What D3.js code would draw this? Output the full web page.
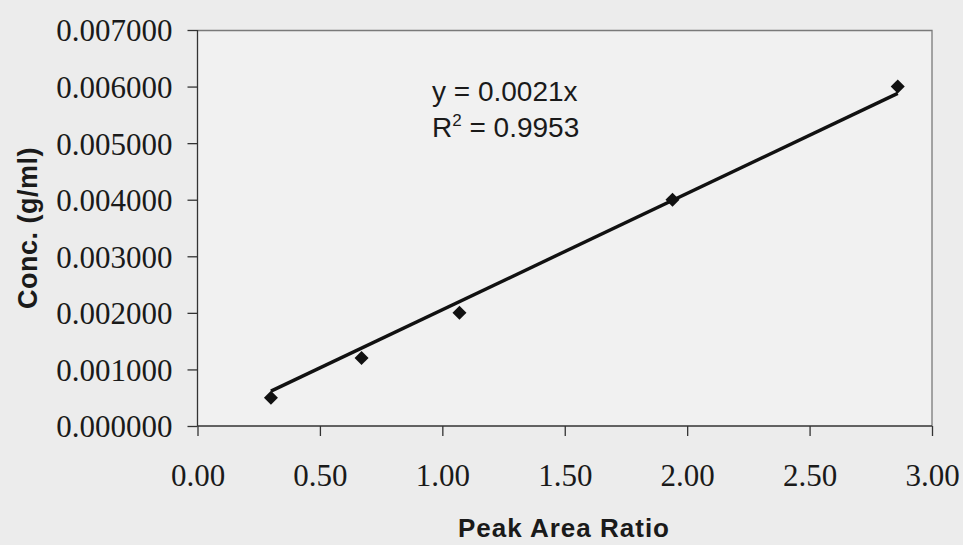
<!DOCTYPE html>
<html>
<head>
<meta charset="utf-8">
<script src="https://cdn.jsdelivr.net/npm/d3@7"></script>
<style>
  body { margin: 0; background: #ececec; }
  svg { display: block; }
</style>
</head>
<body>
<div id="graph"></div>
<script>
// calibration points
var peakRatio = [0.30, 0.67, 1.07, 1.94, 2.86];
var concentration = [0.0005, 0.0012, 0.0020, 0.0040, 0.0060];

var xTicks = [0, 0.5, 1, 1.5, 2, 2.5, 3];
var yTicks = [0, 0.001, 0.002, 0.003, 0.004, 0.005, 0.006, 0.007];

var equationLines = ["y = 0.0021x", "R\u00b2 = 0.9953"];

var svgWidth = 963;
var svgHeight = 545;

var chartMargin = { top: 30, right: 31, bottom: 119, left: 197.5 };
var chartWidth = svgWidth - chartMargin.left - chartMargin.right;
var chartHeight = svgHeight - chartMargin.top - chartMargin.bottom;

var svg = d3.select("#graph")
  .append("svg")
  .attr("width", svgWidth)
  .attr("height", svgHeight);

var chartGroup = svg.append("g")
  .attr("transform", `translate(${chartMargin.left}, ${chartMargin.top})`);

var xScale = d3.scaleLinear().domain([0, 3]).range([0, chartWidth]);
var yScale = d3.scaleLinear().domain([0, 0.007]).range([chartHeight, 0]);

// plot area
chartGroup.append("rect")
  .attr("width", chartWidth)
  .attr("height", chartHeight)
  .attr("fill", "#f1f1f1");

// top and right border (lighter grey)
chartGroup.append("path")
  .attr("d", `M0,0.5H${chartWidth}V${chartHeight}`)
  .attr("fill", "none")
  .attr("stroke", "#7a7a7a")
  .attr("stroke-width", 1.3);

var yAxis = d3.axisLeft(yScale)
  .tickValues(yTicks)
  .tickSize(10)
  .tickPadding(15)
  .tickFormat(d3.format(".6f"));

var xAxis = d3.axisBottom(xScale)
  .tickValues(xTicks)
  .tickSize(10)
  .tickPadding(28)
  .tickFormat(d3.format(".2f"));

var yGroup = chartGroup.append("g").call(yAxis);
var xGroup = chartGroup.append("g")
  .attr("transform", `translate(0, ${chartHeight})`)
  .call(xAxis);

[yGroup, xGroup].forEach(function (g) {
  g.selectAll("path, line").attr("stroke", "#333").attr("stroke-width", 1.3);
  g.selectAll("text")
    .attr("fill", "#1a1a1a")
    .style("font-family", "'Liberation Serif', 'Times New Roman', serif")
    .style("font-size", "31px");
});
yGroup.select(".domain").attr("d", `M0,${chartHeight}V0`);
xGroup.select(".domain").attr("d", `M0,0H${chartWidth}`);
yGroup.selectAll("text").attr("dy", "0.35em");

// trendline through origin, fit from the points
var sxy = d3.sum(peakRatio, function (x, i) { return x * concentration[i]; });
var sxx = d3.sum(peakRatio, function (x) { return x * x; });
var slope = sxy / sxx;
var xMin = d3.min(peakRatio), xMax = d3.max(peakRatio);

chartGroup.append("line")
  .attr("x1", xScale(xMin))
  .attr("y1", yScale(slope * xMin))
  .attr("x2", xScale(xMax))
  .attr("y2", yScale(slope * xMax))
  .attr("stroke", "#111")
  .attr("stroke-width", 3.4);

// diamond markers
var diamond = d3.symbol().type(d3.symbolDiamond2).size(125);
chartGroup.selectAll(".pt")
  .data(peakRatio)
  .enter()
  .append("path")
  .attr("class", "pt")
  .attr("d", diamond)
  .attr("transform", function (x, i) {
    return `translate(${xScale(x)}, ${yScale(concentration[i])})`;
  })
  .attr("fill", "#111");

// equation box text
var eq = svg.append("text")
  .attr("fill", "#1a1a1a")
  .style("font-family", "'Liberation Sans', Arial, sans-serif")
  .style("font-size", "28px");

eq.append("tspan").attr("x", 432).attr("y", 101).text(equationLines[0]);
var r2 = eq.append("tspan").attr("x", 432).attr("y", 137);
r2.append("tspan").text("R");
r2.append("tspan").attr("dy", -11).style("font-size", "17px").text("2");
r2.append("tspan").attr("dy", 11).text(equationLines[1].slice(2));

// axis titles
svg.append("text")
  .attr("x", 564)
  .attr("y", 537)
  .style("text-anchor", "middle")
  .style("font-family", "'Liberation Sans', Arial, sans-serif")
  .style("font-weight", "bold")
  .style("font-size", "26px")
  .style("letter-spacing", "1px")
  .attr("fill", "#1a1a1a")
  .text("Peak Area Ratio");

svg.append("text")
  .attr("transform", "translate(37, 228) rotate(-90)")
  .style("text-anchor", "middle")
  .style("font-family", "'Liberation Sans', Arial, sans-serif")
  .style("font-weight", "bold")
  .style("font-size", "27px")
  .style("letter-spacing", "0.5px")
  .attr("fill", "#1a1a1a")
  .text("Conc. (g/ml)");
</script>
</body>
</html>
